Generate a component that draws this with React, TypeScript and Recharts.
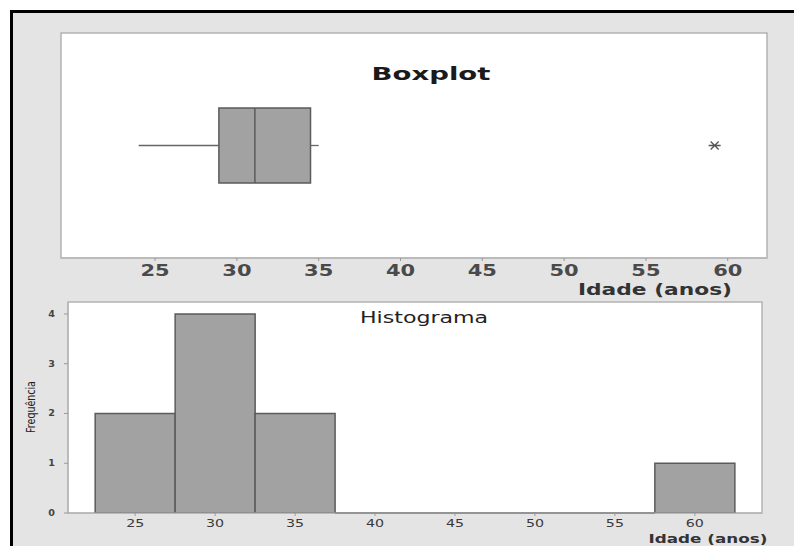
import React from "react";
import {
  ComposedChart, XAxis, YAxis, Bar, Scatter, ReferenceArea, ReferenceLine, CartesianGrid,
} from "recharts";

// boxplot stats (idade em anos)
const BOX_WHISKER_LOW = 24;
const BOX_Q1 = 28.9;
const BOX_MEDIAN = 31.1;
const BOX_Q3 = 34.5;
const BOX_WHISKER_HIGH = 35;
const OUTLIERS = [59.2];

// histogram bins
const BIN_CENTERS = [25, 30, 35, 40, 45, 50, 55, 60];
const BIN_COUNTS = [2, 4, 2, 0, 0, 0, 0, 1];
const BIN_WIDTH = 5;

const X_TICKS = [25, 30, 35, 40, 45, 50, 55, 60];
const Y_TICKS = [0, 1, 2, 3, 4];

const histData = BIN_CENTERS.map((c, i) => ({ x: c, count: BIN_COUNTS[i] }));
const emptyBins = histData.filter((d) => d.count === 0);
const outlierData = OUTLIERS.map((v) => ({ x: v, y: 0.5 }));

const FONT = "'DejaVu Sans', Verdana, sans-serif";
const BOX_HALF = 0.167;
const BORDER = "#b3b3b3";
const BAR_FILL = "#a2a2a2";
const BAR_STROKE = "#5b5b5b";

// text drawn wider than the font, like the stretched source image
const WideText = ({ x, y, sx = 1.45, children, ...rest }: any) => (
  <text
    transform={`translate(${x},${y}) scale(${sx},1)`}
    fontFamily={FONT}
    fill="#2a2a2a"
    textAnchor="middle"
    {...rest}
  >
    {children}
  </text>
);

const TopTick = ({ x, y, payload }: any) => (
  <WideText x={x} y={y + 13} sx={1.4} fontSize={15} fontWeight="bold" fill="#4a4a4a">{payload.value}</WideText>
);

const BottomTick = ({ x, y, payload }: any) => (
  <WideText x={x} y={y + 9} sx={1.42} fontSize={10} fill="#3a3a3a">{payload.value}</WideText>
);

const YTick = ({ x, y, payload }: any) => (
  <WideText x={x} y={y + 3} sx={1.2} fontSize={8} fontWeight="bold" textAnchor="end" fill="#444">{payload.value}</WideText>
);

const Asterisk = ({ cx, cy }: any) => (
  <path
    d={`M${cx - 6},${cy} L${cx + 6},${cy} M${cx - 4},${cy - 4} L${cx + 4},${cy + 4} M${cx - 4},${cy + 4} L${cx + 4},${cy - 4}`}
    stroke="#555"
    strokeWidth={1.3}
  />
);

const X_TOP_DOMAIN: [number, number] = [19.25, 62.4];
const X_BOT_DOMAIN: [number, number] = [20.8, 64.2];

export default function App() {
  return (
    <div style={{ position: "absolute", left: 0, top: 0, width: 794, height: 546, overflow: "hidden", background: "#fff" }}>
      <div
        style={{
          position: "absolute", left: 10, top: 10, width: 800, height: 560,
          border: "3px solid #000", boxSizing: "border-box", background: "#e4e4e4",
        }}
      />
      {/* Boxplot */}
      <div style={{ position: "absolute", left: 0, top: 0 }}>
        <ComposedChart width={794} height={300} margin={{ top: 33, right: 27, left: 61, bottom: 0 }}>
          <CartesianGrid fill="#fff" horizontal={false} vertical={false} stroke="none" />
          <XAxis
            type="number"
            dataKey="x"
            domain={X_TOP_DOMAIN}
            ticks={X_TICKS}
            allowDataOverflow
            height={42}
            axisLine={{ stroke: BORDER }}
            tickLine={{ stroke: "#999" }}
            tickSize={3}
            tickMargin={2}
            tick={<TopTick />}
          />
          <YAxis type="number" dataKey="y" domain={[0, 1]} hide />
          <ReferenceArea x1={X_TOP_DOMAIN[0]} x2={X_TOP_DOMAIN[1]} y1={0} y2={1} fill="none" stroke={BORDER} strokeWidth={1.5} />
          <ReferenceLine
            segment={[{ x: BOX_WHISKER_LOW, y: 0.5 }, { x: BOX_Q1, y: 0.5 }]}
            stroke="#666" strokeWidth={1.3}
          />
          <ReferenceLine
            segment={[{ x: BOX_Q3, y: 0.5 }, { x: BOX_WHISKER_HIGH, y: 0.5 }]}
            stroke="#666" strokeWidth={1.3}
          />
          <ReferenceArea
            x1={BOX_Q1} x2={BOX_Q3} y1={0.5 - BOX_HALF} y2={0.5 + BOX_HALF}
            fill={BAR_FILL} fillOpacity={1} stroke={BAR_STROKE} strokeWidth={1.5}
          />
          <ReferenceLine
            segment={[{ x: BOX_MEDIAN, y: 0.5 - BOX_HALF }, { x: BOX_MEDIAN, y: 0.5 + BOX_HALF }]}
            stroke={BAR_STROKE} strokeWidth={1.5}
          />
          <Scatter data={outlierData} dataKey="y" shape={<Asterisk />} isAnimationActive={false} />
          <WideText x={431} y={80} sx={1.62} fontSize={17} fontWeight="bold" fill="#1a1a1a">Boxplot</WideText>
          <WideText x={655} y={295} sx={1.45} fontSize={15} fontWeight="bold" fill="#333">Idade (anos)</WideText>
        </ComposedChart>
      </div>
      {/* Histograma */}
      <div style={{ position: "absolute", left: 0, top: 262 }}>
        <ComposedChart
          width={794}
          height={284}
          data={histData}
          margin={{ top: 40, right: 32, left: 0, bottom: 0 }}
          barCategoryGap={0}
          barGap={0}
        >
          <CartesianGrid fill="#fff" horizontal={false} vertical={false} stroke="none" />
          <XAxis
            type="number"
            dataKey="x"
            domain={X_BOT_DOMAIN}
            ticks={X_TICKS}
            allowDataOverflow
            height={33}
            axisLine={{ stroke: BORDER }}
            tickLine={{ stroke: "#999" }}
            tickSize={3}
            tickMargin={2}
            tick={<BottomTick />}
          />
          <YAxis
            type="number"
            domain={[0, 4.24]}
            ticks={Y_TICKS}
            allowDataOverflow
            width={68}
            axisLine={{ stroke: BORDER }}
            tickLine={{ stroke: "#999" }}
            tickSize={4}
            tickMargin={9}
            tick={<YTick />}
          />
          <ReferenceArea x1={X_BOT_DOMAIN[0]} x2={X_BOT_DOMAIN[1]} y1={0} y2={4.24} fill="none" stroke={BORDER} strokeWidth={1.5} />
          <Bar dataKey="count" fill={BAR_FILL} stroke={BAR_STROKE} strokeWidth={1.5} isAnimationActive={false} />
          {emptyBins.map((d) => (
            <ReferenceLine
              key={d.x}
              segment={[{ x: d.x - BIN_WIDTH / 2, y: 0 }, { x: d.x + BIN_WIDTH / 2, y: 0 }]}
              stroke={BAR_STROKE}
              strokeWidth={1.5}
            />
          ))}
          <WideText x={424} y={61} sx={1.38} fontSize={16} fill="#222">Histograma</WideText>
          <WideText x={708} y={281} sx={1.4} fontSize={12} fontWeight="bold" fill="#333">Idade (anos)</WideText>
          <text
            transform="translate(35,145) rotate(-90) scale(0.73,1)"
            fontFamily={FONT}
            fontSize={13}
            textAnchor="middle"
            fill="#222"
          >
            Frequência
          </text>
        </ComposedChart>
      </div>
    </div>
  );
}
